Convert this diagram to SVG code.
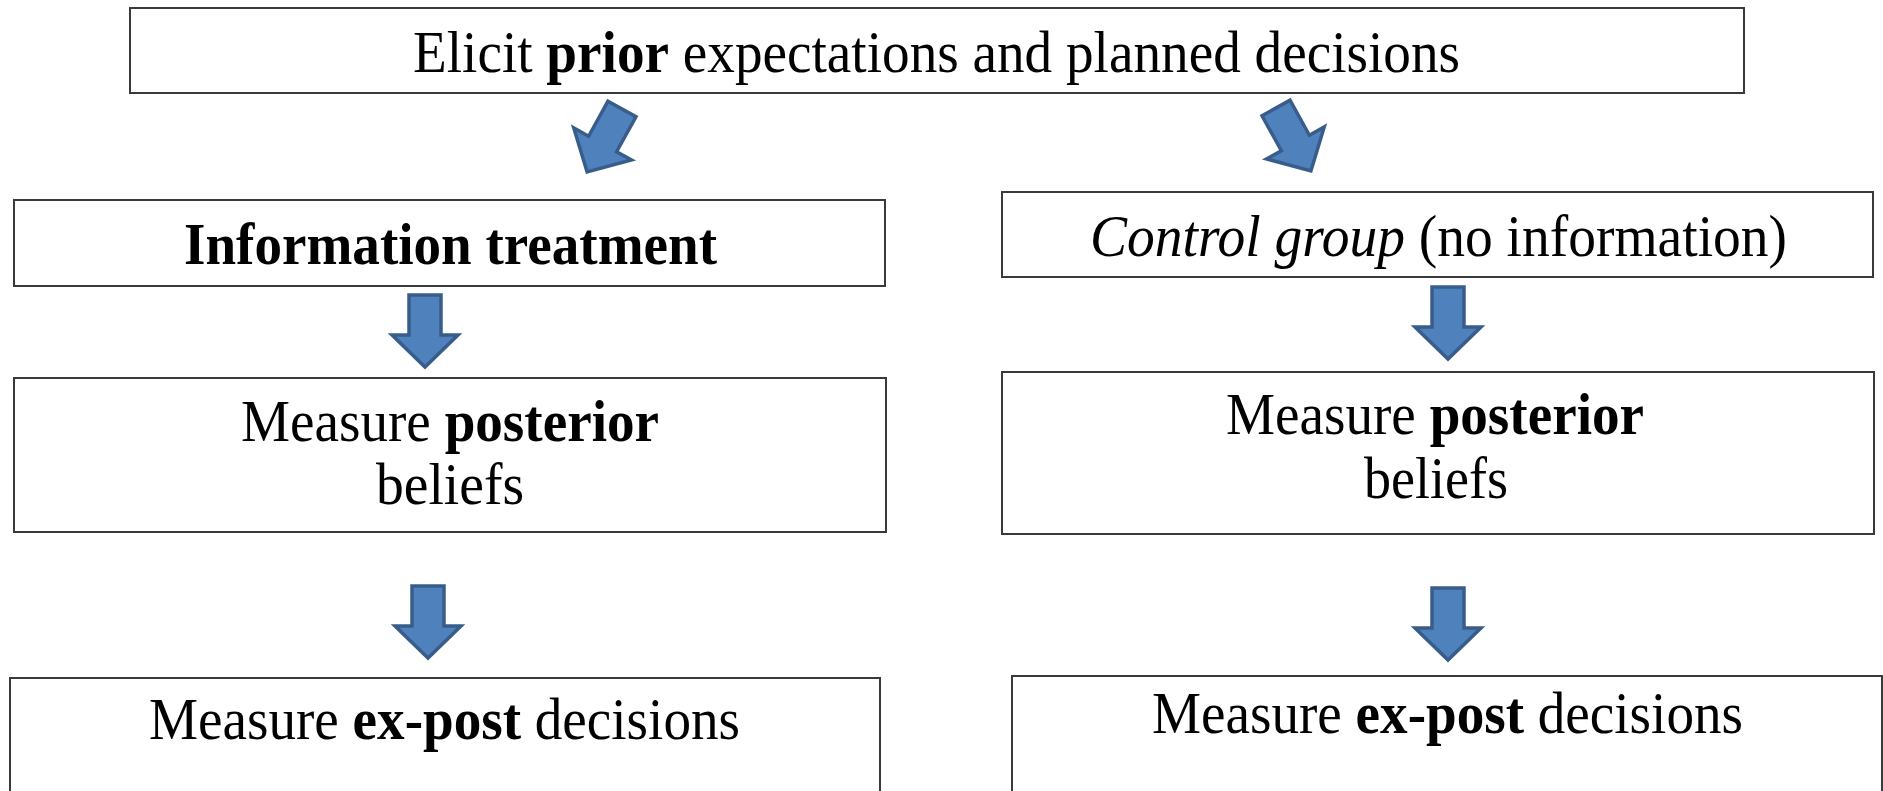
<svg xmlns="http://www.w3.org/2000/svg" width="1883" height="791" viewBox="0 0 1883 791">
<defs>
<style>
.box{fill:#ffffff;stroke:#3a3a3a;stroke-width:2}
.t{font-family:"Liberation Serif","Times New Roman",serif;font-size:60px;fill:#000}
.b{font-weight:bold}
.i{font-style:italic}
.arr{fill:#4f81bd;stroke:#385d8a;stroke-width:3.5;stroke-linejoin:miter}
</style>
<path id="down" d="M-16,0 H16 V40 H33 L0,72 L-33,40 H-16 Z"/>
</defs>
<rect width="1883" height="791" fill="#ffffff"/>
<g id="connectors">
<use href="#down" class="arr" transform="translate(622,109) rotate(29)"/>
<use href="#down" class="arr" transform="translate(1276,108) rotate(-29)"/>
<use href="#down" class="arr" transform="translate(425,295)"/>
<use href="#down" class="arr" transform="translate(428,586)"/>
<use href="#down" class="arr" transform="translate(1448,287)"/>
<use href="#down" class="arr" transform="translate(1448,588)"/>
</g>
<g id="prior">
<rect class="box" x="130" y="8" width="1614" height="85"/>
<text class="t" x="413" y="72" textLength="1047" lengthAdjust="spacingAndGlyphs">Elicit <tspan class="b">prior</tspan> expectations and planned decisions</text>
</g>
<g id="treatment">
<rect class="box" x="14" y="200" width="871" height="86"/>
<text class="t b" x="184" y="264" textLength="533" lengthAdjust="spacingAndGlyphs">Information treatment</text>
</g>
<g id="control">
<rect class="box" x="1002" y="192" width="871" height="85"/>
<text class="t" x="1090" y="256" textLength="697" lengthAdjust="spacingAndGlyphs"><tspan class="i">Control group</tspan> (no information)</text>
</g>
<g id="posterior-left">
<rect class="box" x="14" y="378" width="872" height="154"/>
<text class="t" x="241" y="441" textLength="418" lengthAdjust="spacingAndGlyphs">Measure <tspan class="b">posterior</tspan></text>
<text class="t" x="376" y="504" textLength="148" lengthAdjust="spacingAndGlyphs">beliefs</text>
</g>
<g id="posterior-right">
<rect class="box" x="1002" y="372" width="872" height="162"/>
<text class="t" x="1226" y="434" textLength="418" lengthAdjust="spacingAndGlyphs">Measure <tspan class="b">posterior</tspan></text>
<text class="t" x="1364" y="498" textLength="144" lengthAdjust="spacingAndGlyphs">beliefs</text>
</g>
<g id="expost-left">
<rect class="box" x="10" y="678" width="870" height="130"/>
<text class="t" x="149" y="739" textLength="591" lengthAdjust="spacingAndGlyphs">Measure <tspan class="b">ex-post</tspan> decisions</text>
</g>
<g id="expost-right">
<rect class="box" x="1012" y="676" width="870" height="130"/>
<text class="t" x="1152" y="733" textLength="591" lengthAdjust="spacingAndGlyphs">Measure <tspan class="b">ex-post</tspan> decisions</text>
</g>
</svg>
